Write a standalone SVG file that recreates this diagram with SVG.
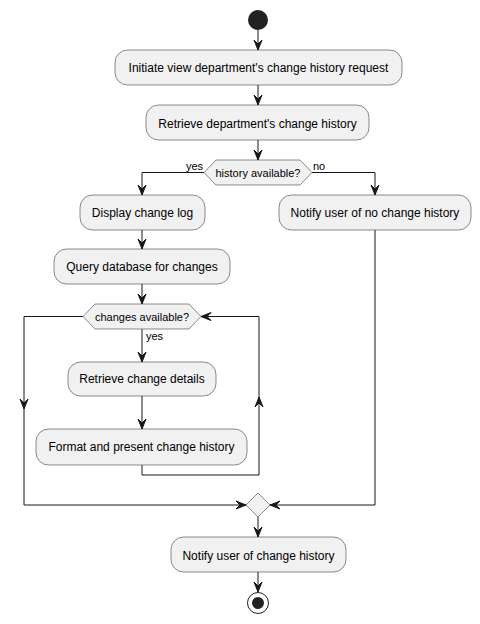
<svg xmlns="http://www.w3.org/2000/svg" width="480" height="624" viewBox="0 0 480 624">
<style>
.box{fill:#F1F1F1;stroke:#181818;stroke-width:0.5}
.t{font-family:"Liberation Sans",Arial,sans-serif;font-size:12px;fill:#000;text-anchor:middle}
.s{font-family:"Liberation Sans",Arial,sans-serif;font-size:11px;fill:#000}
.ln{fill:none;stroke:#181818;stroke-width:1}
.ah{fill:#181818;stroke:#181818;stroke-width:1}
</style>
<defs>
<path id="ah" d="M0,0 L-4,-10 L0,-6 L4,-10 Z"/>
</defs>
<rect width="480" height="624" fill="#FFFFFF"/>
<g id="start"><circle cx="258" cy="20" r="10" fill="#222222"/></g>
<g id="n1"><rect class="box" x="115" y="50" width="287" height="35" rx="12.5"/><text class="t" x="258.5" y="72">Initiate view department's change history request</text></g>
<g id="n2"><rect class="box" x="146" y="105" width="223" height="35" rx="12.5"/><text class="t" x="257.5" y="128">Retrieve department's change history</text></g>
<g id="d1"><polygon class="box" points="204,172.5 216,160 300,160 312,172.5 300,185 216,185"/><text class="s" x="258" y="176.5" text-anchor="middle">history available?</text></g>
<g id="n3"><rect class="box" x="80" y="195" width="125" height="35" rx="12.5"/><text class="t" x="142.5" y="216.5">Display change log</text></g>
<g id="n4"><rect class="box" x="279" y="195" width="192" height="35" rx="12.5"/><text class="t" x="375" y="216.5">Notify user of no change history</text></g>
<g id="n5"><rect class="box" x="54" y="249" width="176" height="35" rx="12.5"/><text class="t" x="142" y="271">Query database for changes</text></g>
<g id="d2"><polygon class="box" points="83,316.5 95,304 189,304 201,316.5 189,329 95,329"/><text class="s" x="142" y="320.5" text-anchor="middle">changes available?</text></g>
<g id="n6"><rect class="box" x="68" y="362" width="148" height="34" rx="12.5"/><text class="t" x="142" y="383">Retrieve change details</text></g>
<g id="n7"><rect class="box" x="36" y="429" width="211" height="36" rx="12.5"/><text class="t" x="141.5" y="451">Format and present change history</text></g>
<g id="merge"><polygon class="box" points="246,505 258,493 270,505 258,517"/></g>
<g id="n8"><rect class="box" x="171" y="537" width="175" height="35" rx="12.5"/><text class="t" x="258.5" y="559.5">Notify user of change history</text></g>
<g id="end"><circle cx="258" cy="603" r="10.5" fill="none" stroke="#222222" stroke-width="1"/><circle cx="258" cy="603" r="6" fill="#222222"/></g>
<g id="connectors">
<path class="ln" d="M258,30 V50 M258,85 V105 M258,140 V160"/>
<path class="ln" d="M204,172.5 H142 V195 M312,172.5 H375 V195"/>
<path class="ln" d="M142,230 V249 M142,284 V304 M142,329 V362 M142,396 V429"/>
<path class="ln" d="M142,465 V475 H259 V316.5 H201"/>
<path class="ln" d="M83,316.5 H24 V505 H246"/>
<path class="ln" d="M375,230 V505 H270"/>
<path class="ln" d="M258,517 V537 M258,572 V592"/>
<use href="#ah" class="ah" transform="translate(258,50)"/>
<use href="#ah" class="ah" transform="translate(258,105)"/>
<use href="#ah" class="ah" transform="translate(258,160)"/>
<use href="#ah" class="ah" transform="translate(142,195)"/>
<use href="#ah" class="ah" transform="translate(375,195)"/>
<use href="#ah" class="ah" transform="translate(142,249)"/>
<use href="#ah" class="ah" transform="translate(142,304)"/>
<use href="#ah" class="ah" transform="translate(142,362)"/>
<use href="#ah" class="ah" transform="translate(142,429)"/>
<use href="#ah" class="ah" transform="translate(259,397) rotate(180)"/>
<use href="#ah" class="ah" transform="translate(201,316.5) rotate(90)"/>
<use href="#ah" class="ah" transform="translate(24,409)"/>
<use href="#ah" class="ah" transform="translate(246,505) rotate(-90)"/>
<use href="#ah" class="ah" transform="translate(270,505) rotate(90)"/>
<use href="#ah" class="ah" transform="translate(258,537)"/>
<use href="#ah" class="ah" transform="translate(258,592)"/>
<text class="s" x="203" y="169.5" text-anchor="end">yes</text>
<text class="s" x="313" y="169.5">no</text>
<text class="s" x="146" y="340">yes</text>
</g>
</svg>
